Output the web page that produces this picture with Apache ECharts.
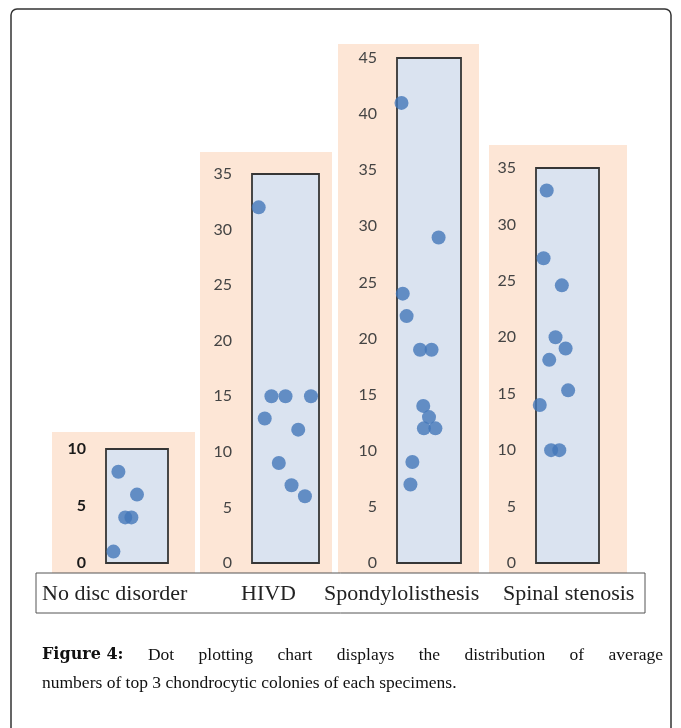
<!DOCTYPE html>
<html><head><meta charset="utf-8">
<script src="https://cdn.jsdelivr.net/npm/echarts@6/dist/echarts.min.js"></script>
<style>html,body{margin:0;padding:0;background:#fff}#c{width:681px;height:728px}</style>
</head><body><div id="c"></div>
<script>
// ---- data ----
const categories = ['No disc disorder', 'HIVD', 'Spondylolisthesis', 'Spinal stenosis'];
const axisMax = [10, 35, 45, 35];
const axisStep = 5;
const noDiscValues = [1, 8, 4, 4, 6];
const noDiscPos = [12, 20, 31, 41, 50];
const hivdValues = [32, 13, 15, 9, 15, 7, 12, 6, 15];
const hivdPos = [10, 19, 29, 40, 50, 59, 69, 79, 88];
const spondyValues = [41, 24, 22, 7, 9, 19, 14, 12, 13, 19, 12, 29];
const spondyPos = [7, 9, 15, 21, 24, 36, 41, 42, 50, 54, 60, 65];
const stenosisValues = [14, 27, 33, 18, 10, 20, 10, 24.6, 19, 15.3];
const stenosisPos = [6, 12, 17, 21, 24, 31, 37, 41, 47, 51];
const captionBold = 'Figure 4:';
const captionWords1 = ['Dot', 'plotting', 'chart', 'displays', 'the', 'distribution', 'of', 'average'];
const captionLine2 = 'numbers of top 3 chondrocytic colonies of each specimens.';

// ---- layout ----
const boxes = [
  {left: 106, top: 449, width: 62, height: 114},
  {left: 252, top: 174, width: 67, height: 389},
  {left: 397, top: 58, width: 64, height: 505},
  {left: 536, top: 168, width: 63, height: 395}
];
const peach = [
  {x: 52, y: 432, w: 143, h: 141},
  {x: 200, y: 152, w: 132, h: 421},
  {x: 338, y: 44, w: 141, h: 529},
  {x: 489, y: 145, w: 138, h: 428}
];
const catX = [42, 241, 324, 503];

const seriesSets = [
  [noDiscPos, noDiscValues],
  [hivdPos, hivdValues],
  [spondyPos, spondyValues],
  [stenosisPos, stenosisValues]
];

const chart = echarts.init(document.getElementById('c'), null, {renderer: 'canvas'});

const grids = [], xAxes = [], yAxes = [], series = [];
boxes.forEach((b, i) => {
  grids.push({left: b.left, top: b.top, width: b.width, height: b.height, show: true,
    backgroundColor: '#dae3f0', borderColor: '#363636', borderWidth: 1.8, z: 2});
  xAxes.push({gridIndex: i, type: 'value', min: 0, max: 100, show: false});
  yAxes.push({gridIndex: i, type: 'value', min: 0, max: axisMax[i], interval: axisStep,
    axisLine: {show: false}, axisTick: {show: false},
    axisLabel: {margin: 20, fontFamily: 'Lato', fontSize: 16,
      fontWeight: i === 0 ? 'bold' : 'normal', color: i === 0 ? '#1a1a1a' : '#444'},
    splitLine: {show: true, lineStyle: {color: '#c9d3df', width: 1}}});
  const [pos, vals] = seriesSets[i];
  series.push({type: 'scatter', xAxisIndex: i, yAxisIndex: i, clip: false,
    symbolSize: 14, itemStyle: {color: '#4477b9'}, z: 5,
    data: vals.map((v, k) => [pos[k], v])});
});

// caption justification
const ctx = document.createElement('canvas').getContext('2d');
const capFont = '"Liberation Serif", "Times New Roman", serif';
const boldFont = '"DejaVu Serif", serif';
const capSize = 17.5;
function measure(t, bold) {
  ctx.font = bold ? ('bold 16px ' + boldFont) : (capSize + 'px ' + capFont);
  return ctx.measureText(t).width;
}
const line1 = [{t: captionBold, b: true}].concat(captionWords1.map(t => ({t, b: false})));
const x0 = 42, x1 = 663;
const widths = line1.map(w => measure(w.t, w.b));
const gap = (x1 - x0 - widths.reduce((a, c) => a + c, 0)) / (line1.length - 1);
let cx = x0;
const captionEls = line1.map((w, k) => {
  const el = {type: 'text', x: cx, y: 655, style: {text: w.t, fontFamily: w.b ? boldFont : capFont,
    fontSize: w.b ? 16 : capSize, fontWeight: w.b ? 'bold' : 'normal', fill: '#111',
    verticalAlign: 'middle', align: 'left'}};
  cx += widths[k] + gap;
  return el;
});
captionEls.push({type: 'text', x: x0, y: 683, style: {text: captionLine2, fontFamily: capFont,
  fontSize: capSize, fill: '#111', verticalAlign: 'middle', align: 'left'}});

const graphic = [
  {type: 'rect', shape: {x: 11, y: 9, width: 660, height: 800, r: 6}, style: {fill: 'none', stroke: '#333', lineWidth: 1.5}, z: -20, silent: true}
].concat(peach.map(p => ({type: 'rect', shape: {x: p.x, y: p.y, width: p.w, height: p.h},
  style: {fill: '#fde6d6'}, z: -10, silent: true})))
 .concat([{type: 'rect', shape: {x: 36, y: 573, width: 609, height: 40}, style: {fill: '#fff', stroke: '#555', lineWidth: 1}, z: 0, silent: true}])
 .concat(categories.map((c, i) => ({type: 'text', x: catX[i], y: 594, z: 1,
   style: {text: c, fontFamily: capFont, fontSize: 22, fill: '#222', verticalAlign: 'middle', align: 'left'}})))
 .concat(captionEls);

chart.setOption({
  backgroundColor: '#fff',
  animation: false,
  grid: grids, xAxis: xAxes, yAxis: yAxes, series: series,
  graphic: graphic
});
</script></body></html>
